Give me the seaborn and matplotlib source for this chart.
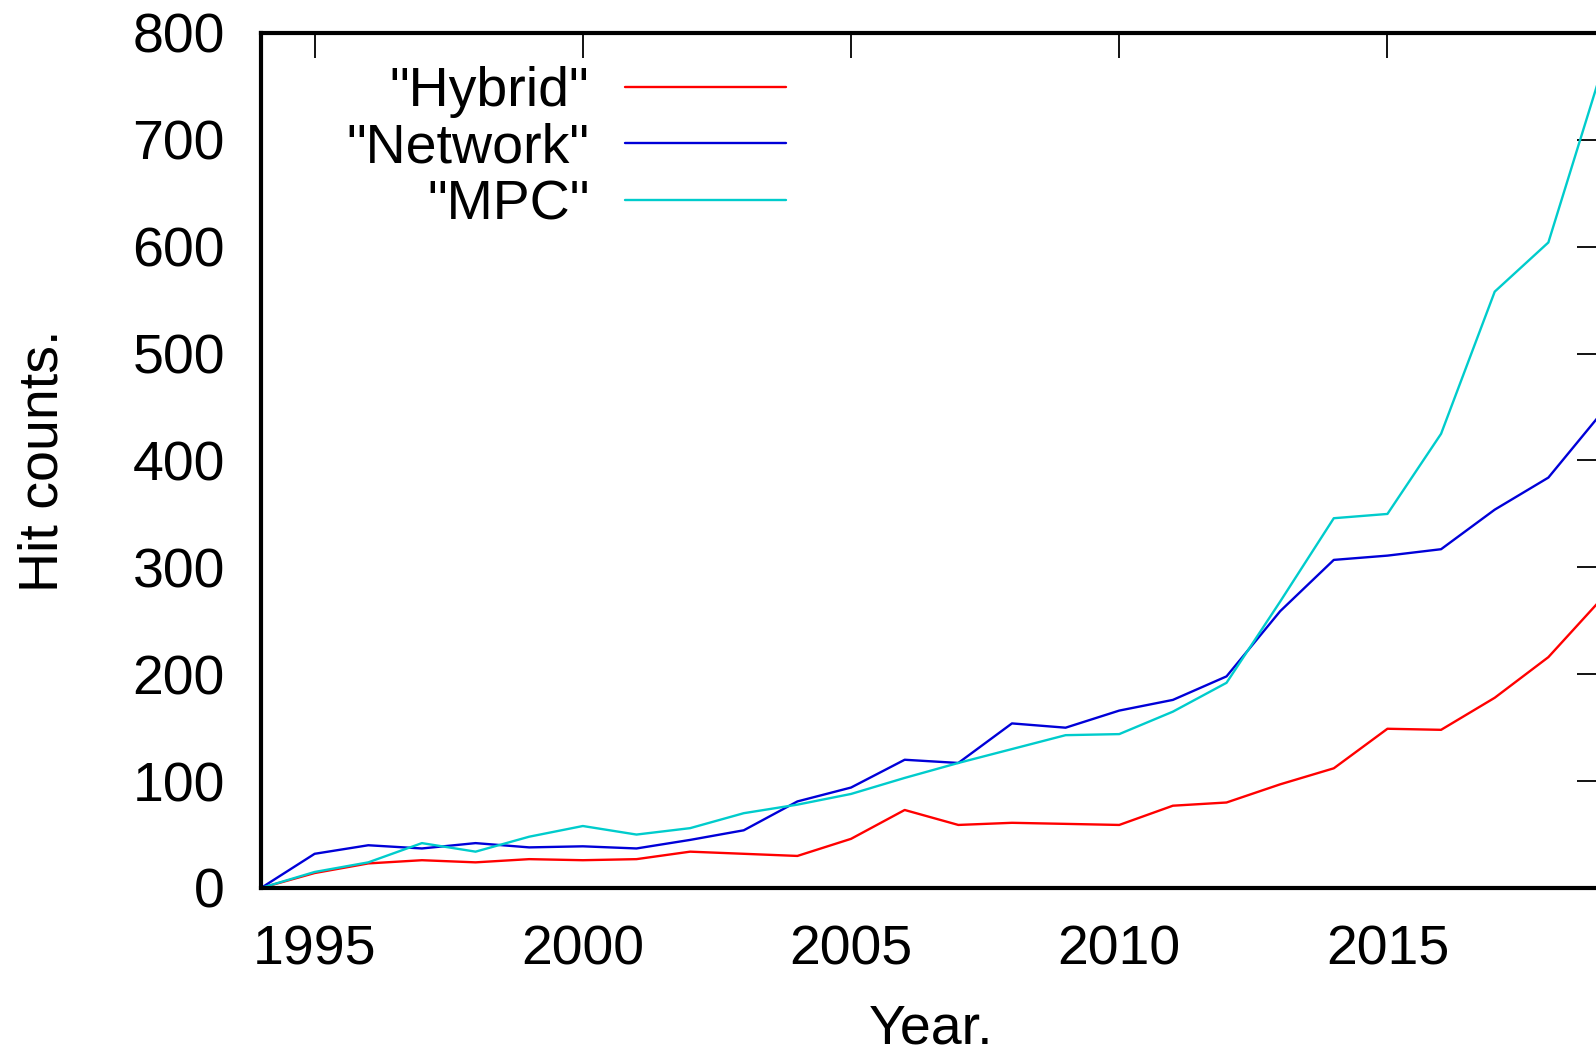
import numpy as np
import pandas as pd
import matplotlib
matplotlib.use("Agg")
import matplotlib.pyplot as plt
import seaborn as sns

# hit counts per year
years = list(range(1994, 2020))
hybrid = [0, 14, 23, 26, 24, 27, 26, 27, 34, 32, 30, 46, 73, 59, 61, 60, 59,
          77, 80, 97, 112, 149, 148, 178, 216, 271]
network = [0, 32, 40, 37, 42, 38, 39, 37, 45, 54, 81, 94, 120, 117, 154, 150,
           166, 176, 198, 259, 307, 311, 317, 354, 384, 445]
mpc = [0, 15, 24, 42, 34, 48, 58, 50, 56, 70, 78, 88, 103, 117, 130, 143, 144,
       165, 192, 268, 346, 350, 425, 558, 604, 766]
series_names = ['"Hybrid"', '"Network"', '"MPC"']
colors = ['#ff0000', '#0000d8', '#00cccc']

df = pd.DataFrame({
    'Year': years * 3,
    'Hits': hybrid + network + mpc,
    'Series': [series_names[0]] * len(years) + [series_names[1]] * len(years)
              + [series_names[2]] * len(years),
})

sns.set_style("white")
plt.rcParams['font.family'] = ['Liberation Sans', 'DejaVu Sans']
plt.rcParams['text.color'] = 'black'
plt.rcParams['axes.labelcolor'] = 'black'

W, H = 1596, 1052
fig = plt.figure(figsize=(W / 100, H / 100), dpi=100)
ax = fig.add_axes([261 / W, (H - 888) / H, 1341 / W, 855 / H])

sns.lineplot(data=df, x='Year', y='Hits', hue='Series', palette=colors,
             linewidth=1.7, legend=False, ax=ax)

ax.set_xlim(1994, 2019)
ax.set_ylim(0, 800)
ax.set_xticks([1995, 2000, 2005, 2010, 2015])
ax.set_yticks(np.arange(0, 801, 100))
ax.tick_params(direction='in', length=18, width=1.3, labelsize=40, pad=26,
               top=True, right=True, colors='black')
for s in ax.spines.values():
    s.set_linewidth(3)
    s.set_color('black')

ax.set_xlabel('Year.', fontsize=40, labelpad=20)
ax.set_ylabel('Hit counts.', fontsize=40, labelpad=45)

ax.legend(ax.lines[:3], series_names, loc='upper right',
          bbox_to_anchor=(0.3915, 0.961), markerfirst=False, frameon=False,
          fontsize=40, labelcolor='black', handlelength=2.9,
          handletextpad=0.64, labelspacing=0.08, borderpad=0,
          borderaxespad=0)

fig.savefig('out.png', dpi=100)
